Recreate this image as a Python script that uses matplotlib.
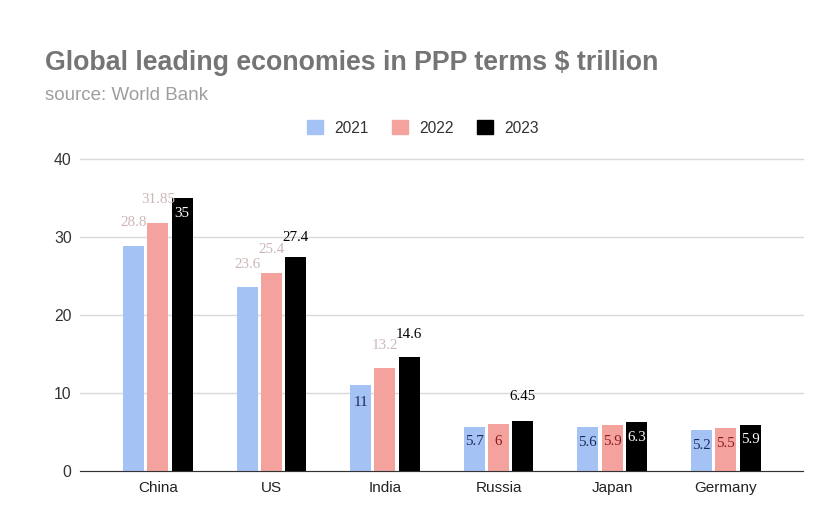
import numpy as np
import matplotlib.pyplot as plt
from matplotlib.patches import Patch

# datos
paises = ['China', 'US', 'India', 'Russia', 'Japan', 'Germany']
anios = ['2021', '2022', '2023']
v2021 = [28.8, 23.6, 11, 5.7, 5.6, 5.2]
v2022 = [31.85, 25.4, 13.2, 6, 5.9, 5.5]
v2023 = [35, 27.4, 14.6, 6.45, 6.3, 5.9]
etiq2021 = ['28.8', '23.6', '11', '5.7', '5.6', '5.2']
etiq2022 = ['31.85', '25.4', '13.2', '6', '5.9', '5.5']
etiq2023 = ['35', '27.4', '14.6', '6.45', '6.3', '5.9']

colores = ['#a4c2f4', '#f4a29d', '#000000']

# desplazamiento vertical (pixeles) y color de cada etiqueta
dy = [[24, 22, -17, -15, -15, -15],
      [23, 23, 23, -17, -17, -15],
      [-16, 20, 23, 24, -16, -15]]
gris = '#cdb6b6'
navy = '#1c2a5a'
rojo = '#8b1a1a'
col_etiq = [[gris, gris, navy, navy, navy, navy],
            [gris, gris, gris, rojo, rojo, rojo],
            ['white', 'black', 'black', 'black', 'white', 'white']]

fig = plt.figure(figsize=(8.28, 5.25), dpi=100)
ax = fig.add_axes([0.0966, 0.1029, 0.8732, 0.5943])

x = np.arange(len(paises))
paso = 0.214
ancho = 0.185
series = [v2021, v2022, v2023]
etiquetas = [etiq2021, etiq2022, etiq2023]
for i in range(3):
    xs = x + (i - 1) * paso
    ax.bar(xs, series[i], width=ancho, color=colores[i], zorder=3)
    for j in range(len(paises)):
        ax.annotate(etiquetas[i][j], (xs[j], series[i][j]),
                    xytext=(0, dy[i][j]), textcoords='offset pixels',
                    ha='center', va='center', fontsize=10.8,
                    family='Liberation Serif', color=col_etiq[i][j],
                    zorder=4)

ax.set_xlim(-0.685, 5.68)
ax.set_ylim(0, 40)
ax.set_yticks([0, 10, 20, 30, 40])
ax.set_xticks(x)
ax.set_xticklabels(paises, fontsize=11, color='#222222', family='Liberation Sans')
for t in ax.get_yticklabels():
    t.set_family('Liberation Sans')
ax.tick_params(axis='y', labelsize=11.3, colors='#333333', length=0, pad=6)
ax.tick_params(axis='x', length=0, pad=7)
for lado in ['top', 'right', 'left']:
    ax.spines[lado].set_visible(False)
ax.spines['bottom'].set_color('#333333')
ax.spines['bottom'].set_zorder(5)
ax.grid(axis='y', color='#d9d9d9', linewidth=1)
ax.set_axisbelow(True)
for gl in ax.get_ygridlines():
    gl.set_clip_on(False)

fig.text(0.054, 0.880, 'Global leading economies in PPP terms $ trillion',
         fontsize=19.3, fontweight='bold', color='#757575', va='center',
         family='Liberation Sans')
fig.text(0.054, 0.819, 'source: World Bank', fontsize=13.5, color='#9e9e9e',
         va='center', family='Liberation Sans')

handles = [Patch(color=c) for c in colores]
leg = fig.legend(handles, anios, loc='center', bbox_to_anchor=(0.511, 0.756), ncol=3,
                 frameon=False, handlelength=1.0, handleheight=1.0,
                 columnspacing=1.5, handletextpad=0.75,
                 prop={'family': 'Liberation Sans', 'size': 11.2})
for t in leg.get_texts():
    t.set_color('#333333')

fig.savefig('out.png', dpi=100)
